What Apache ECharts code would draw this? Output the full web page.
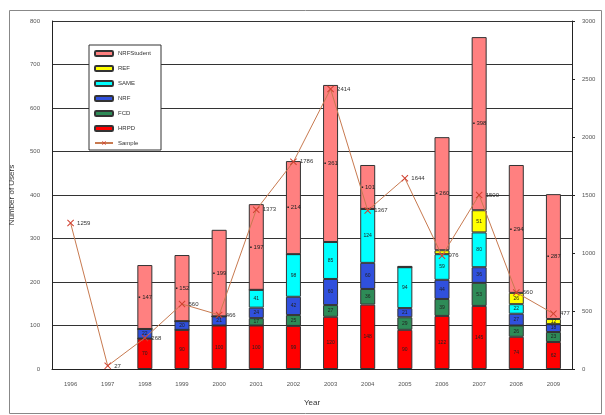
<!DOCTYPE html>
<html>
<head>
<meta charset="utf-8">
<script src="https://cdn.jsdelivr.net/npm/echarts@6/dist/echarts.min.js"></script>
<style>
  html, body { margin: 0; padding: 0; background: #fff; }
  #chart { width: 605px; height: 415px; }
</style>
</head>
<body>
<div id="chart"></div>
<script>
// values
const years = ["1996", "1997", "1998", "1999", "2000", "2001", "2002", "2003", "2004", "2005", "2006", "2007", "2008", "2009"]
const hrpd = [null, null, 70, 90, 100, 100, 99, 120, 148, 90, 122, 145, 74, 62]
const fcd = [null, null, 0, 0, 0, 17, 25, 27, 36, 29, 39, 53, 26, 23]
const nrf = [null, null, 22, 20, 21, 24, 42, 60, 60, 21, 44, 36, 27, 18]
const same = [null, null, 0, 0, 0, 41, 98, 85, 124, 94, 59, 80, 22, 0]
const ref = [null, null, 0, 0, 0, 0, 0, 0, 0, 0, 9, 51, 26, 12]
const student = [null, null, 147, 152, 199, 197, 214, 361, 101, 3, 260, 398, 294, 287]
const sample = [1259, 27, 268, 560, 466, 1373, 1786, 2414, 1367, 1644, 976, 1500, 660, 477]

const font = "Liberation Sans"
const crossPath = "path://M0,1L1,0L5,4L9,0L10,1L6,5L10,9L9,10L5,6L1,10L0,9L4,5Z"

const barSeries = (name, data, color) => ({
  name: name,
  type: "bar",
  stack: "users",
  barWidth: 15,
  data: data,
  itemStyle: { color: color, borderColor: "#333", borderWidth: 1 },
  label: {
    show: true,
    position: "inside",
    fontSize: 5,
    fontFamily: font,
    color: "#222",
    formatter: p => (p.value >= 10 ? p.value : "")
  }
})

const series = [
  barSeries("HRPD", hrpd, "#ff0000"),
  barSeries("FCD", fcd, "#2e8b57"),
  barSeries("NRF", nrf, "#3050dd"),
  barSeries("SAME", same, "#00ffff"),
  barSeries("REF", ref, "#ffff00"),
  barSeries("NRFStudent", student, "#ff8080"),
  {
    name: "Sample",
    type: "line",
    yAxisIndex: 1,
    data: sample,
    symbol: crossPath,
    symbolSize: 7,
    lineStyle: { color: "#c87a50", width: 1 },
    itemStyle: { color: "#d04030" },
    label: {
      show: true,
      position: "right",
      distance: 3,
      fontSize: 6,
      fontFamily: font,
      color: "#333"
    },
    z: 5
  }
]
// pink segment labels sit on the left with a little square
series[5].label = {
  show: true,
  position: "insideLeft",
  distance: 1,
  fontSize: 6,
  fontFamily: font,
  color: "#222",
  formatter: p => (p.value >= 10 ? "\u25AA " + p.value : "")
}

const chart = echarts.init(document.getElementById("chart"))
chart.setOption({
  animation: false,
  backgroundColor: "#fff",
  grid: { left: 52, right: 33, top: 21, bottom: 46 },
  legend: {
    orient: "vertical",
    left: 89,
    top: 45,
    padding: [5, 10, 4, 5],
    backgroundColor: "#fff",
    borderColor: "#333",
    borderWidth: 1,
    itemWidth: 18,
    itemHeight: 5,
    itemGap: 8,
    textStyle: { fontSize: 6, fontFamily: font, color: "#333" },
    data: ["NRFStudent", "REF", "SAME", "NRF", "FCD", "HRPD", "Sample"]
  },
  xAxis: {
    type: "category",
    data: years,
    name: "Year",
    nameLocation: "middle",
    nameGap: 30,
    nameTextStyle: { fontSize: 8, fontFamily: font, color: "#333" },
    axisLine: { lineStyle: { color: "#222", width: 1 } },
    axisTick: { inside: true, length: 3, lineStyle: { color: "#222" } },
    axisLabel: { fontSize: 6, fontFamily: font, color: "#555", margin: 12 }
  },
  yAxis: [
    {
      type: "value",
      min: 0,
      max: 800,
      interval: 100,
      name: "Number of Users",
      nameLocation: "middle",
      nameGap: 36,
      nameTextStyle: { fontSize: 8, fontFamily: font, color: "#333" },
      axisLine: { show: true, lineStyle: { color: "#222" } },
      axisTick: { show: false },
      axisLabel: { fontSize: 6, fontFamily: font, color: "#555", margin: 12 },
      splitLine: { lineStyle: { color: "#333", width: 1 } }
    },
    {
      type: "value",
      min: 0,
      max: 3000,
      interval: 500,
      axisLine: { show: true, lineStyle: { color: "#222" } },
      axisTick: { show: true, length: 3, lineStyle: { color: "#222" } },
      axisLabel: { fontSize: 6, fontFamily: font, color: "#555", margin: 10, formatter: v => String(v) },
      splitLine: { show: false }
    }
  ],
  graphic: [
    {
      type: "rect",
      left: 7,
      top: 8,
      shape: { width: 592, height: 403 },
      style: { fill: "none", stroke: "#888", lineWidth: 1 },
      silent: true
    }
  ],
  series: series
})
</script>
</body>
</html>
